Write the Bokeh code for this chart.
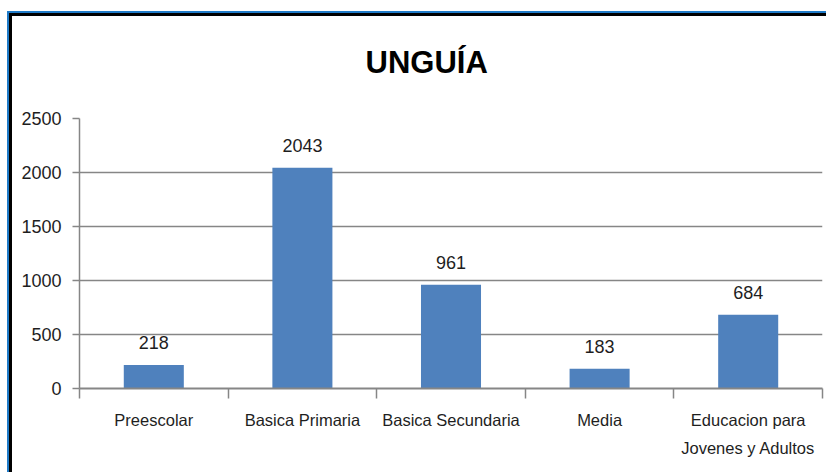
from bokeh.plotting import figure
from bokeh.models import ColumnDataSource, Range1d, LinearAxis, FixedTicker, LabelSet
from bokeh.core.properties import value
from bokeh.embed import file_html
from bokeh.resources import INLINE

categories = ["Preescolar", "Basica Primaria", "Basica Secundaria", "Media", "Educacion para\nJovenes y Adultos"]
values = [218, 2043, 961, 183, 684]
value_labels = [str(v) for v in values]
y_ticks = [0, 500, 1000, 1500, 2000, 2500]
title_text = "UNGUÍA"

FONT = "Liberation Sans"
GRAY = "#868686"
TXT = "#1e1e1e"

n = len(categories)
centers = [i + 0.5 for i in range(n)]
bounds = list(range(n + 1))
src = ColumnDataSource(dict(x=centers, val=values, lbl=value_labels))

p = figure(x_range=Range1d(0, n),
           y_range=Range1d(0, 2500),
           frame_width=743, frame_height=270,
           min_border_left=79, min_border_right=4, min_border_top=118, min_border_bottom=84,
           x_axis_location=None, output_backend="svg", toolbar_location=None)
# outer chart frame (blue + black edge on top and left)
p.styles = {"background-color": "white",
            "box-shadow": "inset 7px 11px 0 0 white, inset 9px 13px 0 0 #1F7BC8, "
                          "inset 12px 16px 0 0 black"}
p.outline_line_color = None
p.background_fill_color = "white"
p.border_fill_alpha = 0

p.vbar(x="x", top="val", width=0.404, source=src, fill_color="#4F81BD", line_color=None)

labels = LabelSet(x="x", y="val", text="lbl", source=src, y_offset=16,
                  text_align="center", text_baseline="alphabetic",
                  text_font=value(FONT), text_font_size=value("18px"), text_color=TXT)
p.add_layout(labels)

# y axis
ya = p.yaxis[0]
ya.ticker = FixedTicker(ticks=y_ticks)
ya.major_tick_out = 7
ya.major_tick_in = 0
ya.minor_tick_line_color = None
ya.axis_line_color = GRAY
ya.axis_line_width = 1.5
ya.major_tick_line_color = GRAY
ya.major_tick_line_width = 1.5
ya.major_label_standoff = 11
ya.major_label_text_font = FONT
ya.major_label_text_font_size = "18px"
ya.major_label_text_color = TXT

p.ygrid.ticker = FixedTicker(ticks=y_ticks)
p.ygrid.grid_line_color = GRAY
p.ygrid.grid_line_width = 1.5
p.xgrid.visible = False

# x axis: ticks at category boundaries
tick_axis = LinearAxis(ticker=FixedTicker(ticks=bounds),
                       major_label_overrides={b: "" for b in bounds},
                       major_label_text_font_size="1px", major_label_standoff=0,
                       major_tick_out=10, major_tick_in=0,
                       minor_tick_line_color=None,
                       axis_line_color=GRAY, axis_line_width=2,
                       major_tick_line_color=GRAY, major_tick_line_width=1.5)
p.add_layout(tick_axis, "below")

# x axis: category labels at centers
cat_axis = LinearAxis(ticker=FixedTicker(ticks=centers),
                      major_label_overrides={c: name for c, name in zip(centers, categories)},
                      axis_line_color=None, major_tick_line_color=None,
                      minor_tick_line_color=None,
                      major_label_standoff=6,
                      major_label_text_font=FONT, major_label_text_font_size="16.5px",
                      major_label_text_color=TXT,
                      major_label_text_line_height=1.6)
p.add_layout(cat_axis, "below")

p.title.text = title_text
p.title.align = "left"
p.title.offset = 286
p.title.standoff = 78
p.title.text_font = FONT
p.title.text_font_style = "bold"
p.title.text_font_size = "31px"
p.title.text_color = "#000000"

open("out.html", "w").write(file_html(p, INLINE))
